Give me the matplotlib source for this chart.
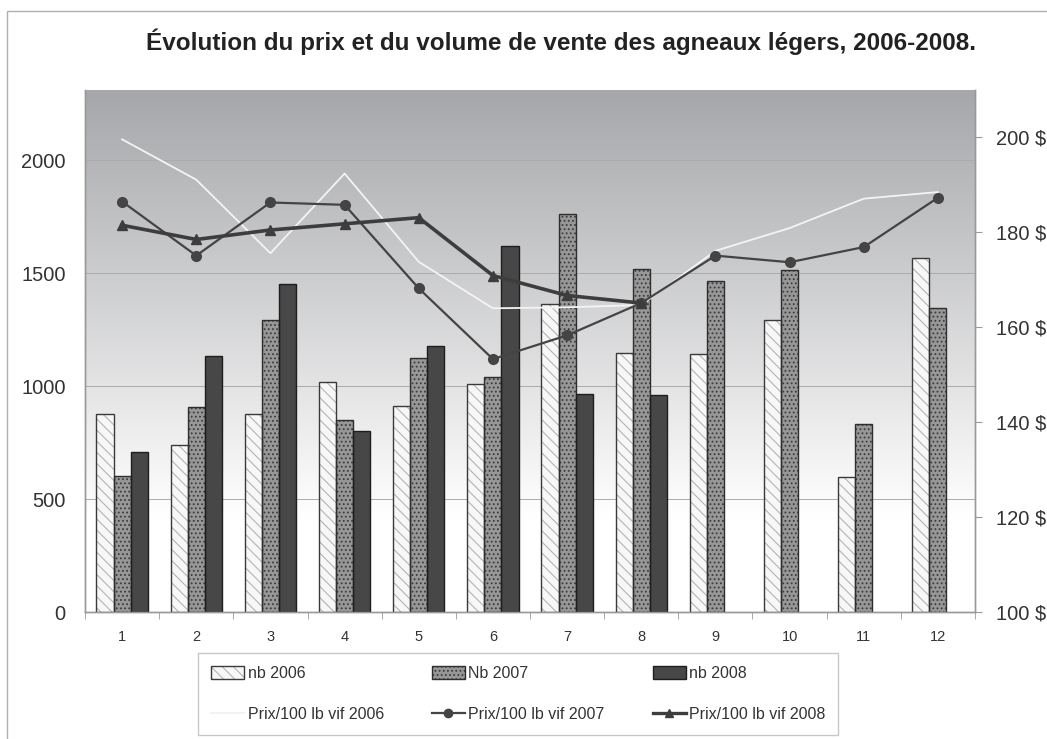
"""Évolution du prix et du volume de vente des agneaux légers, 2006-2008."""

import matplotlib

matplotlib.use("Agg")

import matplotlib.pyplot as plt
import numpy as np
from matplotlib.legend_handler import HandlerBase
from matplotlib.lines import Line2D
from matplotlib.patches import Patch, Rectangle
from matplotlib.ticker import FuncFormatter, MultipleLocator

plt.rcParams["font.family"] = ["Liberation Sans", "DejaVu Sans"]
plt.rcParams["hatch.linewidth"] = 0.8

months = list(range(1, 13))
nb_2006 = [875, 738, 878, 1016, 913, 1007, 1364, 1144, 1141, 1293, 596, 1567]
nb_2007 = [604, 908, 1293, 850, 1124, 1042, 1760, 1516, 1465, 1513, 832, 1346]
nb_2008 = [707, 1133, 1452, 801, 1176, 1621, 966, 961]
prix_2006 = [199.6, 191.1, 175.6, 192.4, 173.8, 164.0, 164.2, 164.7, 176.1, 180.9, 187.1, 188.5]
prix_2007 = [186.5, 175.1, 186.3, 185.8, 168.2, 153.3, 158.3, 165.1, 175.1, 173.7, 176.9, 187.3]
prix_2008 = [181.5, 178.5, 180.5, 181.8, 183.1, 170.9, 166.7, 165.1]

title = "Évolution du prix et du volume de vente des agneaux légers, 2006-2008."

# bar styles: (face, hatch colour, hatch, outline)
style_2006 = ("#f7f7f7", "#b4b4b4", "\\\\\\", "#3a3a3a")
style_2007 = ("#979797", "#3c3c3c", "....", "#2e2e2e")
style_2008 = ("#474747", "#474747", None, "#1e1e1e")


def hatched_bar(ax, xs, heights, width, style):
    face, hcol, hatch, edge = style
    ax.bar(xs, heights, width=width, facecolor=face, edgecolor=hcol, hatch=hatch,
           linewidth=0, zorder=3)
    ax.bar(xs, heights, width=width, fill=False, edgecolor=edge, linewidth=1.0, zorder=3.1)


class HatchHandler(HandlerBase):
    def __init__(self, style):
        super().__init__()
        self.style = style

    def create_artists(self, legend, orig_handle, xdescent, ydescent, width, height,
                       fontsize, trans):
        face, hcol, hatch, edge = self.style
        inner = Rectangle((-xdescent, -ydescent), width, height, facecolor=face,
                          edgecolor=hcol, hatch=hatch, linewidth=0, transform=trans)
        outer = Rectangle((-xdescent, -ydescent), width, height, fill=False,
                          edgecolor=edge, linewidth=1.0, transform=trans)
        return [inner, outer]


fig = plt.figure(figsize=(10.47, 7.39), dpi=100)
fig.patch.set_facecolor("white")
fig.patches.append(
    Rectangle((7 / 1047, -0.05), 1.1, 1 - 11 / 739 + 0.05, transform=fig.transFigure,
              fill=False, edgecolor="#b0b0b0", linewidth=1.0)
)

ax = fig.add_axes([85 / 1047, 1 - 612 / 739, 890 / 1047, 522 / 739])
ax2 = ax.twinx()

# gradient background (grey at top -> white at bottom)
grad = np.linspace(0, 1, 256)[:, None]
top = np.array([166, 167, 170]) / 255
bottom = np.array([255, 255, 255]) / 255
frac = np.clip(grad / 0.82, 0, 1)
img = top * (1 - frac[..., None]) + bottom * frac[..., None]
ax.imshow(img, extent=[0, 1, 0, 1], transform=ax.transAxes, aspect="auto", zorder=0)

x = np.array(months, dtype=float)
w = 0.23
hatched_bar(ax, x[: len(nb_2006)] - w, nb_2006, w, style_2006)
hatched_bar(ax, x[: len(nb_2007)], nb_2007, w, style_2007)
hatched_bar(ax, x[: len(nb_2008)] + w, nb_2008, w, style_2008)

ax.set_xlim(0.5, 12.5)
ax.set_ylim(0, 2310)
ax.yaxis.set_major_locator(MultipleLocator(500))
ax.grid(axis="y", color="#ababab", linewidth=0.7, zorder=1)
ax.set_axisbelow(True)
ax.set_xticks(months)
ax.set_xticks(np.arange(0.5, 13, 1), minor=True)
ax.tick_params(axis="x", which="major", length=0, pad=13, labelsize=10.5, colors="#333333")
ax.tick_params(axis="x", which="minor", length=5, color="#999999")
ax.tick_params(axis="y", length=0, pad=14, labelsize=14.5, labelcolor="#333333")

ax2.plot(x[: len(prix_2006)], prix_2006, color="#f4f4f4", linewidth=1.3, zorder=4)
ax2.plot(x[: len(prix_2007)], prix_2007, color="#444444", linewidth=1.6, marker="o",
         markersize=7, zorder=5)
ax2.plot(x[: len(prix_2008)], prix_2008, color="#3d3d3d", linewidth=2.6, marker="^",
         markersize=7, zorder=5)
ax2.set_ylim(100, 210)
ax2.yaxis.set_major_locator(MultipleLocator(20))
ax2.yaxis.set_major_formatter(FuncFormatter(lambda v, _: f"{v:.0f} $"))
ax2.tick_params(axis="y", length=5, color="#999999", pad=10, labelsize=14.5,
                labelcolor="#333333")

for a in (ax, ax2):
    for side in ("top", "left", "right", "bottom"):
        a.spines[side].set_color("#999999")
        a.spines[side].set_linewidth(1.0)
    a.spines["top"].set_visible(False)

fig.text(561.5 / 1047, 1 - 42 / 739, title, ha="center", va="center", fontsize=17.5,
         fontweight="bold", color="#222222")

h2006, h2007, h2008 = Patch(), Patch(), Patch()
handles = [
    h2006,
    Line2D([], [], color="#f0f0f0", linewidth=1.3),
    h2007,
    Line2D([], [], color="#444444", linewidth=1.6, marker="o", markersize=6),
    h2008,
    Line2D([], [], color="#3d3d3d", linewidth=2.4, marker="^", markersize=6),
]
labels = ["nb 2006", "Prix/100 lb vif 2006", "Nb 2007", "Prix/100 lb vif 2007",
          "nb 2008", "Prix/100 lb vif 2008"]
leg = fig.legend(handles, labels, ncol=3, loc="upper left",
                 bbox_to_anchor=(198 / 1047, 1 - 653 / 739), borderaxespad=0,
                 fontsize=11.5, frameon=True, fancybox=False, edgecolor="#bbbbbb",
                 handlelength=2.1, handleheight=0.9, columnspacing=3.0, borderpad=0.8,
                 labelspacing=1.65, handletextpad=0.2,
                 handler_map={h2006: HatchHandler(style_2006),
                              h2007: HatchHandler(style_2007),
                              h2008: HatchHandler(style_2008)})
leg.get_frame().set_linewidth(1.0)
for t in leg.get_texts():
    t.set_color("#333333")

fig.savefig("out.png", dpi=100)
